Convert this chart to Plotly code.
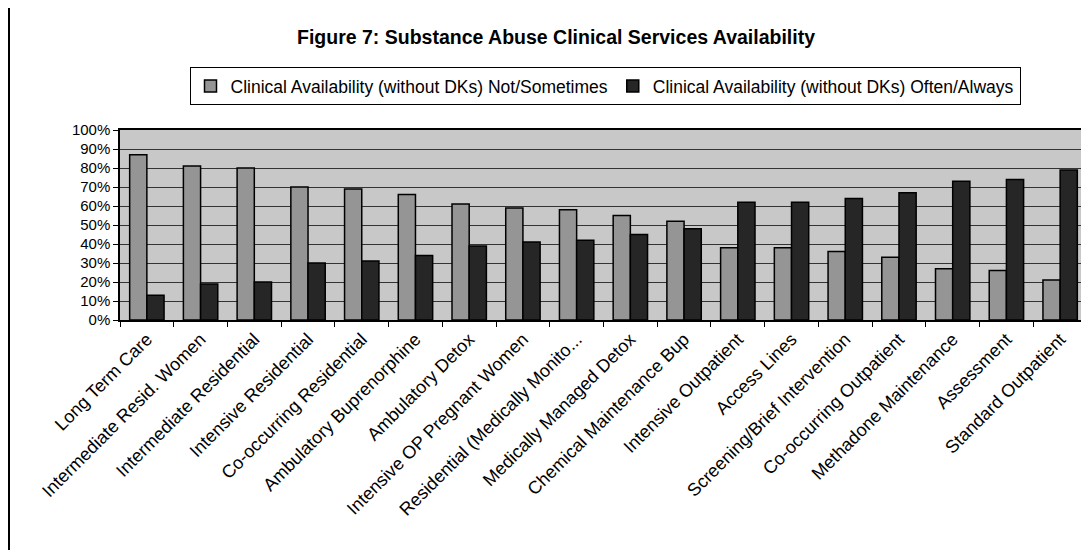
import plotly.graph_objects as go

categories = [
    "Long Term Care", "Intermediate Resid. Women", "Intermediate Residential",
    "Intensive Residential", "Co-occurring Residential", "Ambulatory Buprenorphine",
    "Ambulatory Detox", "Intensive OP Pregnant Women", "Residential (Medically Monito...",
    "Medically Managed Detox", "Chemical Maintenance Bup", "Intensive Outpatient",
    "Access Lines", "Screening/Brief Intervention", "Co-occurring Outpatient",
    "Methadone Maintenance", "Assessment", "Standard Outpatient",
]
not_sometimes = [87, 81, 80, 70, 69, 66, 61, 59, 58, 55, 52, 38, 38, 36, 33, 27, 26, 21]
often_always = [13, 19, 20, 30, 31, 34, 39, 41, 42, 45, 48, 62, 62, 64, 67, 73, 74, 79]
series_names = [
    "Clinical Availability (without DKs) Not/Sometimes",
    "Clinical Availability (without DKs) Often/Always",
]
title_text = "Figure 7: Substance Abuse Clinical Services Availability"

FONT = "Liberation Sans, Arial, sans-serif"
OFF = 8  # default page body margin
W, H = 1089 - OFF, 550 - OFF
L, T = 120 - OFF, 130 - OFF
PLOT_RIGHT, PLOT_BOTTOM = 1087 - OFF, 320 - OFF
R, B = W - PLOT_RIGHT, H - PLOT_BOTTOM
PW, PH = W - L - R, H - T - B

def px_x(page_px):
    return (page_px - OFF - L) / PW

def px_y(page_py):
    return (PLOT_BOTTOM - (page_py - OFF)) / PH

fig = go.Figure()
fig.add_bar(
    x=categories, y=[v / 100 for v in not_sometimes], name=series_names[0],
    marker=dict(color="#959595", line=dict(color="#000000", width=1.5)),
)
fig.add_bar(
    x=categories, y=[v / 100 for v in often_always], name=series_names[1],
    marker=dict(color="#262626", line=dict(color="#000000", width=1.5)),
)

fig.update_layout(
    width=W, height=H,
    margin=dict(l=L, r=R, t=T, b=B, autoexpand=False),
    paper_bgcolor="white",
    plot_bgcolor="#c8c8c8",
    barmode="group", bargap=0.36, bargroupgap=0.0,
    font=dict(family=FONT, color="#000000", size=15),
    title=dict(
        text="<b>" + title_text + "</b>", x=(556 - OFF) / W, xanchor="center",
        y=1 - (37 - OFF) / H, yanchor="middle", font=dict(size=19.5, family=FONT),
    ),
    legend=dict(
        orientation="h", x=px_x(605), xanchor="center", y=px_y(86), yanchor="middle",
        bordercolor="#000000", borderwidth=1, bgcolor="white",
        font=dict(size=17.5, family=FONT), itemwidth=30, traceorder="normal",
    ),
    showlegend=True,
)
fig.update_yaxes(
    range=[0, 1], dtick=0.1, tickformat=".0%", showgrid=True, gridcolor="#333333",
    gridwidth=1, showline=True, linecolor="#000000", linewidth=1.5, mirror=True,
    ticks="outside", ticklen=5, tickcolor="#000000", zeroline=False,
    tickfont=dict(size=15, family=FONT), fixedrange=True,
)
fig.update_xaxes(
    tickangle=-45, showline=True, linecolor="#000000", linewidth=1.5, mirror=True,
    ticks="outside", ticklen=5, tickcolor="#000000", tickson="boundaries",
    tickfont=dict(size=18, family=FONT), automargin=False, fixedrange=True,
)

# outer chart frame (left edge)
fig.add_shape(type="line", xref="paper", yref="paper",
              x0=px_x(9), x1=px_x(9), y0=px_y(OFF), y1=px_y(550),
              line=dict(color="#000000", width=2))

fig.write_html("out.html")
